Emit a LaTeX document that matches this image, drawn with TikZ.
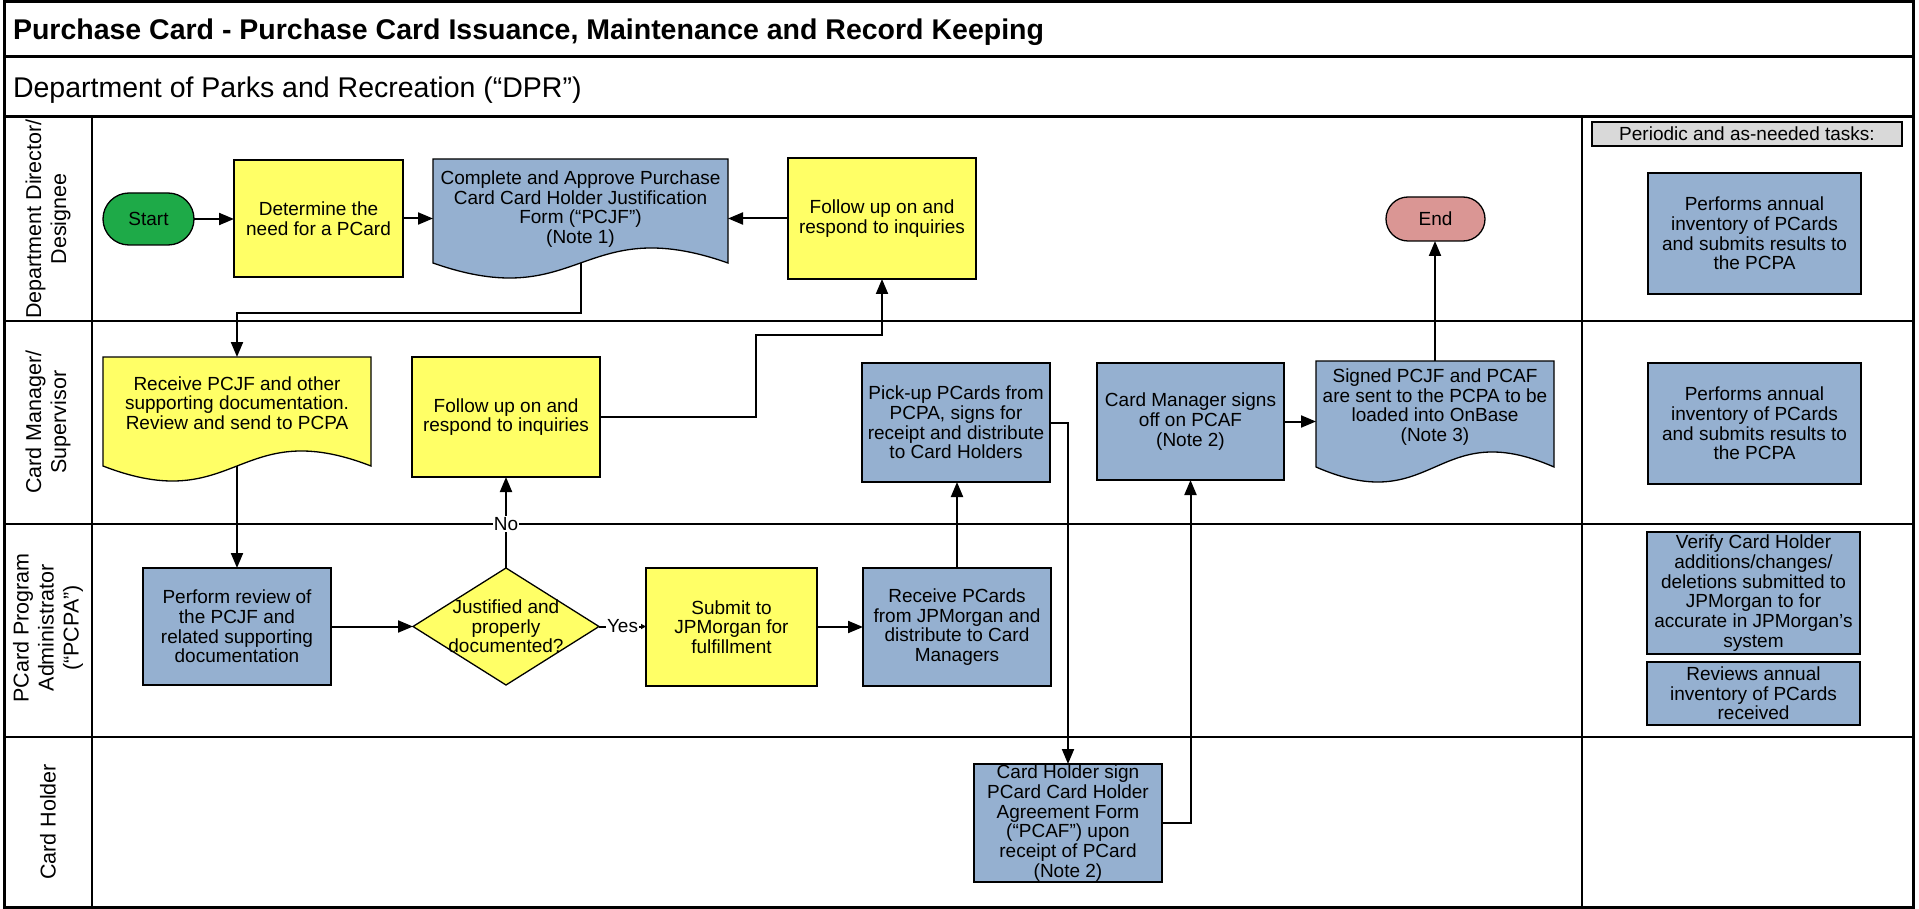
\documentclass[tikz,border=0pt]{standalone}
\usepackage{fontspec}
\setmainfont{Liberation Sans}
\usetikzlibrary{arrows.meta,shapes.geometric}
\definecolor{pyellow}{RGB}{255,255,102}
\definecolor{pblue}{RGB}{149,176,208}
\definecolor{pgreen}{RGB}{30,170,72}
\definecolor{pred}{RGB}{218,150,148}
\definecolor{pgray}{RGB}{217,217,217}
\newcommand{\bodyfont}{\fontsize{19}{19.7}\selectfont}
\newcommand{\lanefont}{\fontsize{21.5}{25}\selectfont}
\begin{document}
\begin{tikzpicture}[x=1pt,y=-1pt,
  every node/.style={inner sep=0pt, outer sep=0pt},
  proc/.style={draw=black, line width=1.3pt, align=center, font=\bodyfont},
  ybox/.style={proc, fill=pyellow},
  bbox/.style={proc, fill=pblue},
  term/.style={proc, minimum width=91, minimum height=52, rounded corners=26pt},
  docshape/.style={draw=black, line width=1.3pt},
  doctext/.style={align=center, font=\bodyfont},
  arr/.style={line width=2pt, -{Triangle[length=15pt,width=12pt]}},
  lane/.style={line width=1.8pt},
  lanelabel/.style={rotate=90, align=center, font=\lanefont},
  lbl/.style={fill=white, font=\bodyfont, inner sep=1pt}
]
\fill[white] (0,0) rectangle (1919,909);
\useasboundingbox (0,0) rectangle (1919,909);

% frame and lanes
\draw[line width=3pt] (4,2) rectangle (1913,907);
\draw[line width=3pt] (4,57) -- (1913,57);
\draw[line width=3pt] (4,117) -- (1913,117);
\draw[lane] (4,321) -- (1913,321);
\draw[lane] (4,524) -- (1913,524);
\draw[lane] (4,737) -- (1913,737);
\draw[line width=1.5pt] (92,117) -- (92,907);
\draw[line width=2.5pt] (1582,117) -- (1582,907);

% titles
\node[anchor=base west, font=\fontsize{28.5}{32}\selectfont\bfseries] (title) at (13,40) {Purchase Card - Purchase Card Issuance, Maintenance and Record Keeping};
\node[anchor=base west, font=\fontsize{28.5}{32}\selectfont] (dept) at (13,98) {Department of Parks and Recreation (“DPR”)};

% lane labels
\node[lanelabel] (l1) at (48,219) {Department Director/\\Designee};
\node[lanelabel] (l2) at (48,422) {Card Manager/\\Supervisor};
\node[lanelabel] (l3) at (48,628) {PCard Program\\Administrator\\(“PCPA”)};
\node[lanelabel] (l4) at (48,822) {Card Holder};

% document shapes
\draw[docshape, fill=pblue] (433,159) -- (728,159) -- (728,263) .. controls (580.5,211) and (580.5,315) .. (433,263) -- cycle;
\draw[docshape, fill=pyellow] (103,357) -- (371,357) -- (371,466) .. controls (237,414) and (237,518) .. (103,466) -- cycle;
\draw[docshape, fill=pblue] (1316,361) -- (1554,361) -- (1554,467) .. controls (1435,415) and (1435,519) .. (1316,467) -- cycle;

% lane 1
\node[term, fill=pgreen] (start) at (148.5,219) {Start};
\node[ybox, minimum width=169, minimum height=117] (det) at (318.5,218.5) {Determine the\\need for a PCard};
\node[doctext, minimum width=295, minimum height=100] (pcjf) at (580.5,209) {Complete and Approve Purchase\\Card Card Holder Justification\\Form (“PCJF”)\\(Note 1)};
\node[ybox, minimum width=188, minimum height=121] (fu1) at (882,218.5) {Follow up on and\\respond to inquiries};
\node[term, fill=pred, minimum width=99, minimum height=44, rounded corners=22pt] (end) at (1435.5,219) {End};

% lane 2
\node[doctext, minimum width=268, minimum height=92] (recv) at (237,403) {Receive PCJF and other\\supporting documentation.\\Review and send to PCPA};
\node[ybox, minimum width=188, minimum height=120] (fu2) at (506,417) {Follow up on and\\respond to inquiries};
\node[bbox, minimum width=188, minimum height=119] (pick) at (956,422.5) {Pick-up PCards from\\PCPA, signs for\\receipt and distribute\\to Card Holders};
\node[bbox, minimum width=187, minimum height=117] (cms) at (1190.5,421.5) {Card Manager signs\\off on PCAF\\(Note 2)};
\node[doctext, minimum width=238, minimum height=92] (signed) at (1435,407) {Signed PCJF and PCAF\\are sent to the PCPA to be\\loaded into OnBase\\(Note 3)};

% lane 3
\node[bbox, minimum width=188, minimum height=117] (perf) at (237,626.5) {Perform review of\\the PCJF and\\related supporting\\documentation};
\node[draw=black, line width=1.3pt, fill=pyellow, diamond, minimum width=186, minimum height=117,
  label={[align=center, font=\bodyfont]center:Justified and\\properly\\documented?}] (dia) at (506,626.5) {};
\node[ybox, minimum width=171, minimum height=118] (sub) at (731.5,627) {Submit to\\JPMorgan for\\fulfillment};
\node[bbox, minimum width=188, minimum height=118] (rpc) at (957,627) {Receive PCards\\from JPMorgan and\\distribute to Card\\Managers};

% lane 4
\node[bbox, minimum width=188, minimum height=118] (ch) at (1068,823) {Card Holder sign\\PCard Card Holder\\Agreement Form\\(“PCAF”) upon\\receipt of PCard\\(Note 2)};

% right column
\node[proc, fill=pgray, minimum width=310, minimum height=24] (per) at (1747,134) {Periodic and as-needed tasks:};
\node[bbox, minimum width=213, minimum height=121] (t1) at (1754.5,233.5) {Performs annual\\inventory of PCards\\and submits results to\\the PCPA};
\node[bbox, minimum width=213, minimum height=121] (t2) at (1754.5,423.5) {Performs annual\\inventory of PCards\\and submits results to\\the PCPA};
\node[bbox, minimum width=213, minimum height=122] (t3) at (1753.5,593) {Verify Card Holder\\additions/changes/\\deletions submitted to\\JPMorgan to for\\accurate in JPMorgan’s\\system};
\node[bbox, minimum width=213, minimum height=63] (t4) at (1753.5,693.5) {Reviews annual\\inventory of PCards\\received};

% connectors
\coordinate (pcjfb) at (581,263);
\coordinate (j1) at (581,313);
\coordinate (recvb) at (237,466);
\coordinate (j2) at (756,335);
\draw[arr] (start.east) -- (start.east -| det.west);
\draw[arr] (det.east) -- (det.east -| pcjf.west);
\draw[arr] (fu1.west) -- (fu1.west -| pcjf.east);
\draw[arr] (pcjfb) -- (j1) -| (recv.north);
\draw[arr] (recvb) -- (perf.north);
\draw[arr] (perf.east) -- (perf.east -| dia.west);
\draw[arr] (dia.north) -- (dia.north |- fu2.south) node[pos=0.484, lbl] (no) {No};
\draw[line width=2pt, -{Triangle[length=5pt,width=5pt]}] (dia.east) -- (dia.east -| sub.west) node[midway, lbl] (yes) {Yes};
\draw[arr] (sub.east) -- (sub.east -| rpc.west);
\draw[arr] (rpc.north) -- (rpc.north |- pick.south);
\draw[arr] (pick.east) -| (ch.north);
\draw[arr] (ch.east) -| (cms.south);
\draw[arr] (cms.east) -- (cms.east -| signed.west);
\draw[arr] (signed.north) -- (signed.north |- end.south);
\draw[arr] (fu2.east) -| (j2) -| (fu1.south);
\end{tikzpicture}
\end{document}
